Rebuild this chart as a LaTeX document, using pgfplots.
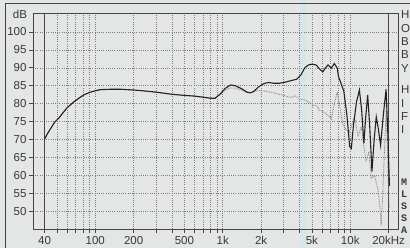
\documentclass[border=0pt]{standalone}
\usepackage{fontspec}
\setmainfont{Liberation Sans}
\setmonofont{Liberation Mono}
\usepackage{pgfplots}
\pgfplotsset{compat=1.18}
\usepackage{pgfplotstable}

\definecolor{bg}{RGB}{228,230,229}
\definecolor{framec}{RGB}{70,70,70}
\definecolor{gridc}{RGB}{125,125,125}
\definecolor{curve}{RGB}{35,35,35}
\definecolor{offc}{RGB}{125,125,125}
\definecolor{stripe}{RGB}{205,230,236}
\definecolor{txt}{RGB}{55,55,55}

\pgfplotstableread{
f db
40 70
42 71.5
45 73.2
48 74.8
52 76
56 77.5
60 78.8
67 80.3
75 81.6
82 82.5
90 83.1
100 83.6
110 83.9
130 84
160 84
200 83.8
250 83.5
300 83.2
400 82.6
500 82.3
600 82.1
700 81.8
800 81.5
870 81.5
950 82.6
1050 84.3
1150 85.2
1250 85
1400 84.2
1550 83.2
1650 83
1750 83.4
1900 84.6
2100 85.6
2300 85.9
2500 85.7
2800 85.7
3100 86
3500 86.5
3800 86.8
4100 88
4400 90
4700 90.8
5000 91
5400 90.8
5800 89.5
6100 88.9
6400 90
6700 90.8
7100 89.9
7500 91.2
7900 89.9
8100 87.5
8400 86
8900 83.5
9400 77
9900 68
10200 67.5
10600 74
11200 80.5
11800 83.8
12300 78
12800 68.9
13200 76
13700 82.4
14200 74
14800 61
15400 70
16000 76.3
16600 73
17300 68.4
18200 77
19100 84
19700 72
20300 57
}\onaxis

\pgfplotstableread{
f db
40 70
42 71.5
45 73.2
48 74.8
52 76
56 77.5
60 78.8
67 80.3
75 81.6
82 82.5
90 83.1
100 83.6
110 83.9
130 84
160 84
200 83.8
250 83.5
300 83.2
400 82.6
500 82.3
600 82.1
700 81.8
800 81.5
870 81.5
950 82.5
1050 83.8
1150 84.4
1250 84.3
1400 83.8
1550 83.1
1650 83
1800 83.5
2000 83.7
2200 83.4
2500 83
2700 82.7
3000 82.3
3400 81.7
3700 82.2
4000 81.3
4400 81
4800 80.3
5200 79.5
5500 79.3
5700 78.2
6000 78
6400 77.3
6800 76.5
7100 75.6
7400 79
7900 83.3
8300 79
8700 74.5
9300 72.6
9800 72
10300 74
10800 76.3
11500 70.8
12200 73.6
12800 68
13300 63.8
14000 66.6
14600 59.1
15500 60
16500 55.9
17000 52
17500 46
18000 55
18700 70
19200 78
19700 63
20200 51
}\offaxis

\begin{document}
\begin{tikzpicture}
\fill[bg] (0,0) rectangle (410pt,248pt);
\fill[stripe,opacity=0.6] (300pt,0) rectangle (306pt,248pt);
\draw[framec, line width=0.8pt] (5pt,0) -- (5pt,245pt) -- (410pt,245pt);
\begin{axis}[
  at={(33pt,19pt)}, anchor=south west,
  scale only axis, width=365pt, height=216pt,
  xmode=log, xmin=32.5, xmax=23690, ymin=45, ymax=105.3,
  xtick={40,100,200,500,1000,2000,5000,10000,20000},
  xticklabels={40,100,200,500,1k,2k,5k,10k,20kHz},
  minor xtick={50,60,70,80,90,300,400,600,700,800,900,3000,4000,6000,7000,8000,9000},
  ytick={50,55,...,100},
  tick pos=left, tick align=outside,
  major tick length=4pt, minor tick length=4pt,
  every tick/.style={framec, line width=0.6pt},
  grid=both,
  major grid style={gridc, line width=0.5pt, dash pattern=on 0.6pt off 1.6pt},
  minor grid style={gridc, line width=0.5pt, dash pattern=on 0.6pt off 1.6pt},
  axis line style={framec, line width=0.9pt},
  ticklabel style={font=\fontsize{11.5}{13}\selectfont, text=txt},
  /pgf/number format/assume math mode=true,
  yticklabel style={xshift=1pt},
]
\addplot[framec, line width=0.9pt] coordinates {(40,45) (40,105.3)};
\addplot[framec, line width=0.9pt] coordinates {(20000,45) (20000,105.3)};
\addplot[offc, line width=0.8pt, dash pattern=on 0.8pt off 0.9pt] table[x=f,y=db] {\offaxis};
\addplot[curve, line width=1.1pt] table[x=f,y=db] {\onaxis};
\end{axis}
\node[font=\fontsize{11.5}{13}\selectfont, text=txt] at (20pt,234pt) {dB};
\foreach \l/\y in {H/15,O/28.3,B/41.6,B/55,Y/68.3,H/90,I/103.3,F/116.6,I/130}{
  \node[anchor=west, inner sep=0pt, font=\fontsize{11.5}{13}\selectfont, text=txt] at (401pt,{(248-\y)*1pt}) {\l};
}
\foreach \l/\y in {M/182,L/194,S/206,S/218,A/230}{
  \node[anchor=west, inner sep=0pt, font=\ttfamily\bfseries\fontsize{10}{12}\selectfont, text=txt] at (401pt,{(248-\y)*1pt}) {\l};
}
\pgfresetboundingbox
\useasboundingbox (0,0) rectangle (410pt,248pt);
\end{tikzpicture}
\end{document}
